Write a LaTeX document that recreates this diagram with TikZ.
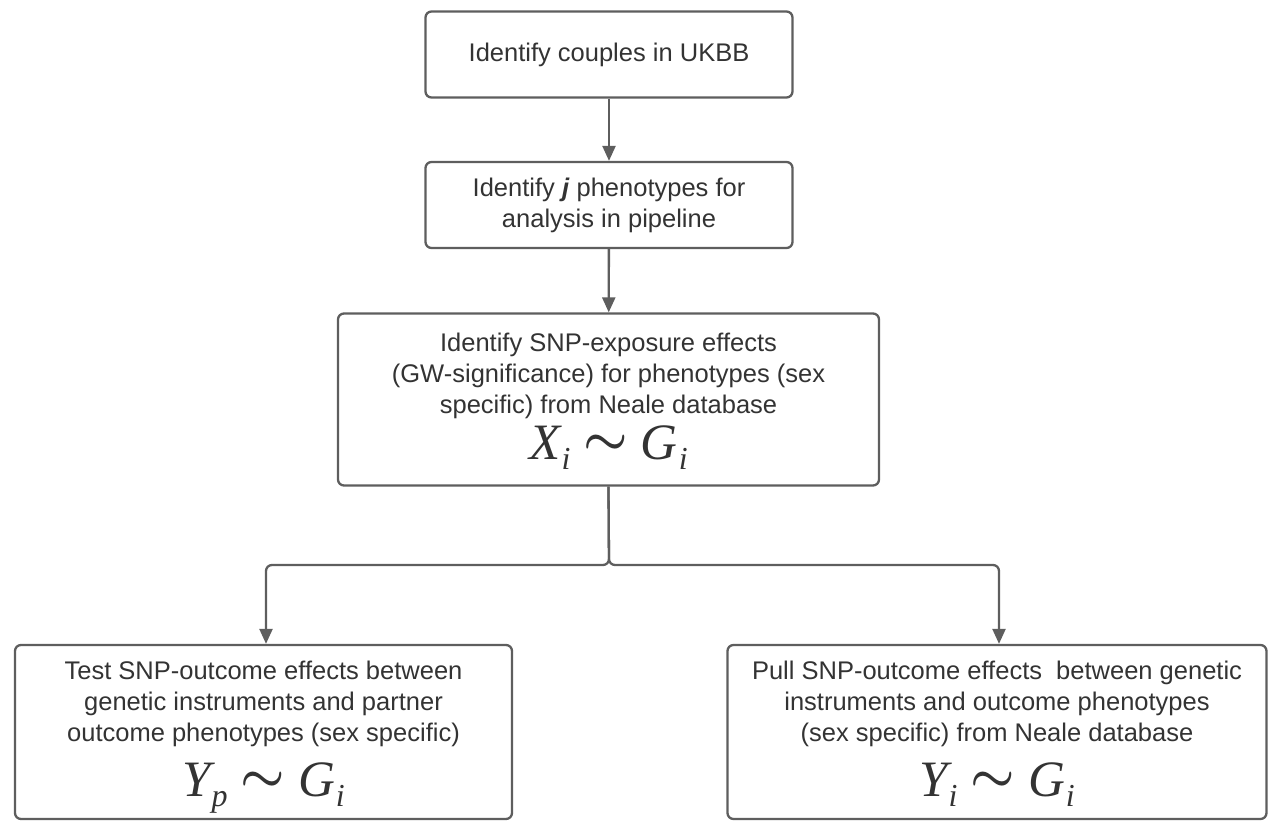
\documentclass[tikz,border=0pt]{standalone}
\usepackage{fontspec}
\setmainfont{Liberation Sans}
\newfontfamily\tms{Liberation Serif}
\usetikzlibrary{arrows.meta}

\definecolor{edge}{HTML}{5E5E5E}
\definecolor{ink}{HTML}{333333}

% a relation such as  X_i ~ G_i  set in a large serif italic
\newcommand{\sub}[1]{\raisebox{-10pt}{\fontsize{32}{32}\selectfont #1}}
\newcommand{\rel}[4]{{\fontsize{51}{56}\selectfont
  {\tms\itshape #1\kern1pt\sub{#2}}\hspace{13pt}\raisebox{5pt}{\scalebox{2.0}{\boldmath$\sim$}}\hspace{13pt}{\tms\itshape #3\kern1pt\sub{#4}}}}

\begin{document}
\begin{tikzpicture}[x=1pt,y=-1pt,
  stepbox/.style={draw=edge, line width=2.3pt, rounded corners=6pt, fill=white,
    inner sep=0pt},
  caption/.style={inner sep=0pt, align=center, text=ink,
    font=\fontsize{25.5}{31}\selectfont},
  formula/.style={inner sep=0pt, text=ink, anchor=base},
  link/.style={draw=edge, line width=2.3pt, rounded corners=6pt,
    -{Triangle[length=15pt,width=13pt]}}]

\useasboundingbox (0,0) rectangle (1281,822);

% boxes
\node[stepbox, minimum width=367pt, minimum height=86pt] (b1) at (609,54.5) {};
\node[stepbox, minimum width=367pt, minimum height=86pt] (b2) at (609,205) {};
\node[stepbox, minimum width=541pt, minimum height=172pt] (b3) at (608.5,399.5) {};
\node[stepbox, minimum width=497pt, minimum height=174pt] (b4) at (263.5,732) {};
\node[stepbox, minimum width=539pt, minimum height=174pt] (b5) at (997,732) {};

% texts
\node[caption] (t1) at (609,54.5) {Identify couples in UKBB};
\node[caption] (t2) at (609,205) {Identify \textbf{\textit{j}} phenotypes for\\analysis in pipeline};
\node[caption] (t3) at (608.5,376) {Identify SNP-exposure effects\\
  (GW-significance) for phenotypes (sex\\
  specific) from Neale database};
\node[formula] (f3) at (608.5,459) {\rel{X}{i}{G}{i}};

\node[caption] (t4) at (263.5,704) {Test SNP-outcome effects between\\
  genetic instruments and partner\\
  outcome phenotypes (sex specific)};
\node[formula] (f4) at (263.5,796) {\rel{Y}{p}{G}{i}};

\node[caption] (t5) at (997,704) {Pull SNP-outcome effects\ \ between genetic\\
  instruments and outcome phenotypes\\
  (sex specific) from Neale database};
\node[formula] (f5) at (997,796) {\rel{Y}{i}{G}{i}};

% connectors
\coordinate (split) at (609,565);

\draw[link] (b1) -- (b2);
\draw[link] (b2) -- (b3);
\draw[link] (b3.south) -- (split) -| ([xshift=2.5pt]b4.north);
\draw[link] (b3.south) -- (split) -| ([xshift=2pt]b5.north);
\end{tikzpicture}
\end{document}
